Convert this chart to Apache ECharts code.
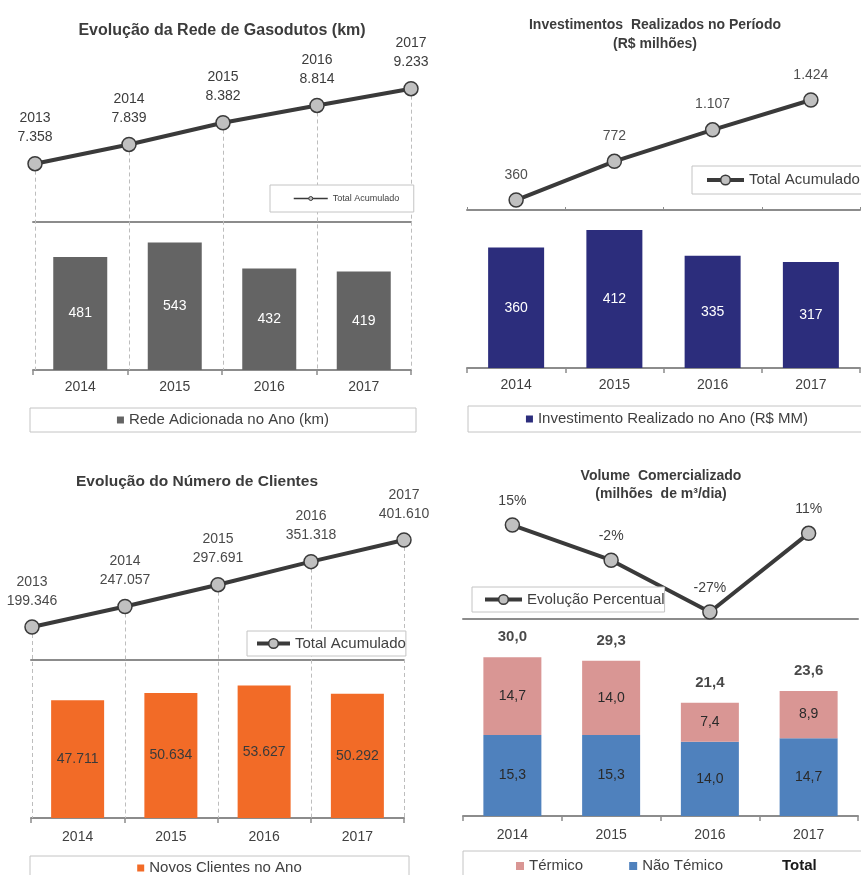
<!DOCTYPE html>
<html><head><meta charset="utf-8">
<script src="https://cdn.jsdelivr.net/npm/echarts@6/dist/echarts.min.js"></script>
<style>html,body{margin:0;padding:0;background:#fff}#c{width:861px;height:875px}</style>
</head><body><div id="c"></div>
<script>
const FONT = '"Liberation Sans", Arial, Helvetica, sans-serif';

// ---- Panel 1: Rede de Gasodutos
const redeYears = ['2013', '2014', '2015', '2016', '2017'];
const redeTotal = [7358, 7839, 8382, 8814, 9233];
const barYears = ['2014', '2015', '2016', '2017'];
const redeAdded = [481, 543, 432, 419];

// ---- Panel 2: Investimentos
const investTotal = [360, 772, 1107, 1424];
const investYear = [360, 412, 335, 317];

// ---- Panel 3: Clientes
const clientYears = ['2013', '2014', '2015', '2016', '2017'];
const clientTotal = [199346, 247057, 297691, 351318, 401610];
const clientNew = [47711, 50634, 53627, 50292];

// ---- Panel 4: Volume
const volPct = [15, -2, -27, 11];
const volTermico = [14.7, 14.0, 7.4, 8.9];
const volNaoTermico = [15.3, 15.3, 14.0, 14.7];
const volTotal = [30.0, 29.3, 21.4, 23.6];

const fmtInt = v => String(v).replace(/\B(?=(\d{3})+(?!\d))/g, '.');
const fmtDec = v => v.toFixed(1).replace('.', ',');

// axis ranges (layout)
const Y = {
  p1l: [2200, 9950], p1b: [0, 630],
  p2l: [254, 1850], p2b: [0, 472],
  p3l: [-244700, 448100], p3b: [0, 64000],
  p4l: [-30.4, 27.1], p4b: [0, 37.2]
};

const ctx = document.createElement('canvas').getContext('2d');
function tw(t, size, weight) { ctx.font = (weight || 'normal') + ' ' + size + 'px ' + FONT; return ctx.measureText(t).width; }

function legendBox(o) {
  let w = 0;
  o.items.forEach((it, i) => {
    w += o.itemWidth + 5 + tw(it.name, o.fontSize, it.bold ? 'bold' : 'normal');
    if (i > 0) w += o.itemGap;
  });
  const h = Math.max(o.itemHeight, o.fontSize);
  const [bx, by, bw, bh] = o.box;
  const pl = o.contentLeft != null ? o.contentLeft - bx : (bw - w) / 2;
  const pr = Math.max(0, bw - w - pl);
  const pt = (bh - h) / 2;
  const lg = {
    show: true, left: bx, top: by, width: Math.ceil(w) + 12, orient: 'horizontal', selectedMode: false,
    padding: [pt, pr, bh - h - pt, pl],
    borderColor: '#c4c4c4', borderWidth: 1, backgroundColor: '#fff',
    itemWidth: o.itemWidth, itemHeight: o.itemHeight, itemGap: o.itemGap,
    textStyle: { fontSize: o.fontSize, color: '#404040', fontFamily: FONT },
    data: o.items.map(it => {
      const d = { name: it.name };
      if (it.icon) d.icon = it.icon;
      if (it.bold) d.textStyle = { fontWeight: 'bold', color: '#1a1a1a', fontSize: o.fontSize };
      return d;
    }),
    z: 10
  };
  if (o.lineStyle) lg.lineStyle = o.lineStyle;
  if (o.itemStyle) lg.itemStyle = o.itemStyle;
  return lg;
}

function lineSeries(name, xi, yi, data, fmt, dist, color) {
  return {
    type: 'line', name, xAxisIndex: xi, yAxisIndex: yi, data,
    symbol: 'circle', symbolSize: 14, z: 5,
    lineStyle: { color: '#3a3a3a', width: 4 },
    itemStyle: { color: '#c0c0c0', borderColor: '#3a3a3a', borderWidth: 1.5 },
    label: { show: true, position: 'top', distance: dist, formatter: fmt, color, fontSize: 14, lineHeight: 19, fontFamily: FONT },
    emphasis: { disabled: true }
  };
}
function dropLines(cats, vals, minV) {
  return {
    silent: true, z: 1, symbol: ['none', 'none'], label: { show: false },
    lineStyle: { type: [4, 3], color: '#bdbdbd', width: 1 },
    emphasis: { disabled: true },
    data: cats.map((c, i) => [{ coord: [c, vals[i]] }, { coord: [c, minV] }])
  };
}
function barSeries(name, xi, yi, data, color, bw, lblColor, fmt, stack) {
  const s = {
    type: 'bar', name, xAxisIndex: xi, yAxisIndex: yi, data, barWidth: bw,
    itemStyle: { color },
    label: { show: true, position: 'inside', color: lblColor, fontSize: 14, fontFamily: FONT, formatter: p => fmt(p.value) },
    emphasis: { disabled: true }
  };
  if (stack) s.stack = stack;
  return s;
}
function hiddenCat(gi, data, bg) { return { type: 'category', gridIndex: gi, data, boundaryGap: bg, show: false }; }
function bottomAxis(gi, margin) {
  return {
    type: 'category', gridIndex: gi, data: barYears, position: 'bottom',
    axisLine: { lineStyle: { color: '#8c8c8c', width: 2 } },
    axisTick: { show: true, length: 5, lineStyle: { color: '#8c8c8c', width: 1.5 } },
    axisLabel: { color: '#404040', fontSize: 14, margin, fontFamily: FONT },
    splitLine: { show: false }
  };
}
function topAxis(gi, ticks) {
  return {
    type: 'category', gridIndex: gi, data: barYears, position: 'top',
    axisLine: { lineStyle: { color: '#8c8c8c', width: 2 } },
    axisTick: { show: ticks, length: 3, lineStyle: { color: '#8c8c8c', width: 1 } },
    axisLabel: { show: false }, splitLine: { show: false }
  };
}
function valAxis(gi, r) { return { type: 'value', gridIndex: gi, min: r[0], max: r[1], show: false, splitLine: { show: false } }; }

const titleStyle = (fs, lh) => ({ fontSize: fs, fontWeight: 'bold', color: '#3c3c3c', fontFamily: FONT, lineHeight: lh });
const lineLegendItem = { color: '#c0c0c0', borderColor: '#3a3a3a', borderWidth: 1.5 };

const option = {
  animation: false,
  backgroundColor: '#fff',
  textStyle: { fontFamily: FONT },
  title: [
    { text: 'Evolução da Rede de Gasodutos (km)', left: 222, top: 22, textAlign: 'center', padding: 0, textStyle: titleStyle(16, 18) },
    { text: 'Investimentos  Realizados no Período\n(R$ milhões)', left: 655, top: 16, textAlign: 'center', padding: 0, textStyle: titleStyle(14, 19) },
    { text: 'Evolução do Número de Clientes', left: 197, top: 473, textAlign: 'center', padding: 0, textStyle: titleStyle(15.5, 18) },
    { text: 'Volume  Comercializado\n(milhões  de m³/dia)', left: 661, top: 467, textAlign: 'center', padding: 0, textStyle: titleStyle(14, 18) }
  ],
  legend: [
    legendBox({ box: [270, 185, 143, 27], items: [{ name: 'Total Acumulado' }], fontSize: 9, itemWidth: 34, itemHeight: 5, itemGap: 10, contentLeft: 293,
      lineStyle: { width: 1.5, color: '#3a3a3a' }, itemStyle: { color: '#c0c0c0', borderWidth: 1, borderColor: '#3a3a3a' } }),
    legendBox({ box: [30, 408, 386, 24], items: [{ name: 'Rede Adicionada no Ano (km)', icon: 'rect' }], fontSize: 15, itemWidth: 7, itemHeight: 7, itemGap: 10 }),
    legendBox({ box: [692, 166, 175, 28], items: [{ name: 'Total Acumulado' }], fontSize: 15, itemWidth: 37, itemHeight: 12, itemGap: 10, contentLeft: 705,
      lineStyle: { width: 4, color: '#3a3a3a' }, itemStyle: lineLegendItem }),
    legendBox({ box: [468, 406, 398, 26], items: [{ name: 'Investimento Realizado no Ano (R$ MM)', icon: 'rect' }], fontSize: 15, itemWidth: 7, itemHeight: 7, itemGap: 10 }),
    legendBox({ box: [247, 631, 155, 25], items: [{ name: 'Total Acumulado' }], fontSize: 15, itemWidth: 33, itemHeight: 12, itemGap: 10, contentLeft: 255,
      lineStyle: { width: 4, color: '#3a3a3a' }, itemStyle: lineLegendItem }),
    legendBox({ box: [30, 856, 379, 24], items: [{ name: 'Novos Clientes no Ano', icon: 'rect' }], fontSize: 15, itemWidth: 7, itemHeight: 7, itemGap: 10 }),
    legendBox({ box: [472, 587, 176, 25], items: [{ name: 'Evolução Percentual' }], fontSize: 15, itemWidth: 37, itemHeight: 12, itemGap: 10, contentLeft: 483,
      lineStyle: { width: 4, color: '#3a3a3a' }, itemStyle: lineLegendItem }),
    legendBox({ box: [463, 851, 402, 30], items: [{ name: 'Térmico', icon: 'rect' }, { name: 'Não Témico', icon: 'rect' }, { name: 'Total', icon: 'none', bold: true }],
      fontSize: 15, itemWidth: 8, itemHeight: 8, itemGap: 46, contentLeft: 516 })
  ],
  grid: [
    { left: 35, top: 60, width: 376, height: 310 },   // 0 p1 line
    { left: 33, top: 222, width: 378, height: 148 },  // 1 p1 bar
    { left: 467, top: 60, width: 393, height: 150 },  // 2 p2 line
    { left: 467, top: 210, width: 393, height: 158 }, // 3 p2 bar
    { left: 32, top: 520, width: 372, height: 298 },  // 4 p3 line
    { left: 31, top: 660, width: 373, height: 158 },  // 5 p3 bar
    { left: 463, top: 500, width: 395, height: 119 }, // 6 p4 line
    { left: 463, top: 619, width: 395, height: 197 }  // 7 p4 bar
  ],
  xAxis: [
    hiddenCat(0, redeYears, false),   // 0
    bottomAxis(1, 10),                // 1
    topAxis(1, false),                // 2
    hiddenCat(2, barYears, true),     // 3
    bottomAxis(3, 10),                // 4
    topAxis(3, true),                 // 5
    hiddenCat(4, clientYears, false), // 6
    bottomAxis(5, 12),                // 7
    topAxis(5, false),                // 8
    hiddenCat(6, barYears, true),     // 9
    bottomAxis(7, 12),                // 10
    topAxis(7, false)                 // 11
  ],
  yAxis: [
    valAxis(0, Y.p1l), valAxis(1, Y.p1b),
    valAxis(2, Y.p2l), valAxis(3, Y.p2b),
    valAxis(4, Y.p3l), valAxis(5, Y.p3b),
    valAxis(6, Y.p4l), valAxis(7, Y.p4b)
  ],
  series: [
    Object.assign(lineSeries('Total Acumulado', 0, 0, redeTotal, p => redeYears[p.dataIndex] + '\n' + fmtInt(p.value), 9, '#3c3c3c'),
      { markLine: dropLines(redeYears, redeTotal, Y.p1l[0]) }),
    barSeries('Rede Adicionada no Ano (km)', 1, 1, redeAdded, '#646464', 54, '#ffffff', fmtInt),

    lineSeries('Total Acumulado', 3, 2, investTotal, p => fmtInt(p.value), 8, '#505050'),
    barSeries('Investimento Realizado no Ano (R$ MM)', 4, 3, investYear, '#2c2d7c', 56, '#ffffff', fmtInt),

    Object.assign(lineSeries('Total Acumulado', 6, 4, clientTotal, p => clientYears[p.dataIndex] + '\n' + fmtInt(p.value), 9, '#4a4a4a'),
      { markLine: dropLines(clientYears, clientTotal, Y.p3l[0]) }),
    barSeries('Novos Clientes no Ano', 7, 5, clientNew, '#f26b27', 53, '#3a3a3a', fmtInt),

    lineSeries('Evolução Percentual', 9, 6, volPct, p => p.value + '%', 7, '#404040'),
    barSeries('Não Témico', 10, 7, volNaoTermico, '#4f81bd', 58, '#2a2a2a', fmtDec, 'vol'),
    barSeries('Térmico', 10, 7, volTermico, '#d99694', 58, '#2a2a2a', fmtDec, 'vol'),
    {
      type: 'scatter', name: 'Total', xAxisIndex: 10, yAxisIndex: 7, data: volTotal,
      symbol: 'circle', symbolSize: 1, itemStyle: { color: 'rgba(0,0,0,0)' },
      label: { show: true, position: 'top', distance: 12, formatter: p => fmtDec(p.value), fontWeight: 'bold', fontSize: 15, color: '#1a1a1a', fontFamily: FONT },
      emphasis: { disabled: true }, silent: true
    }
  ]
};

const chart = echarts.init(document.getElementById('c'));
chart.setOption(option);
</script>
</body></html>
